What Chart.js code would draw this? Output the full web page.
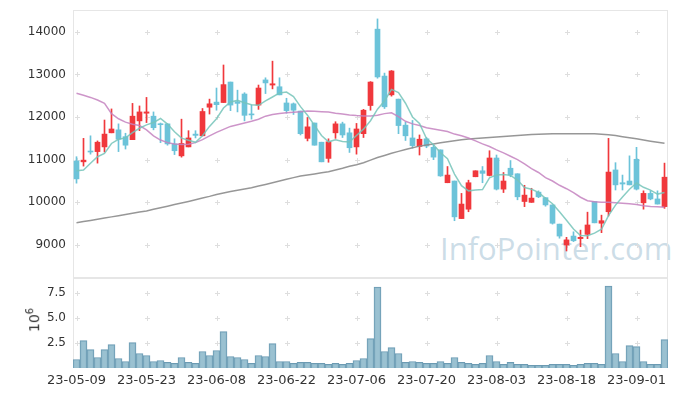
<!DOCTYPE html>
<html><head><meta charset="utf-8">
<script src="https://cdn.jsdelivr.net/npm/chart.js@4"></script>
<style>
html,body{margin:0;padding:0;background:#fff;}
#wrap{position:relative;width:677px;height:396px;overflow:hidden;background:#fff;}
#wm{position:absolute;left:440px;top:233px;font:31px "Open Sans",sans-serif;color:rgba(170,198,215,0.6);white-space:nowrap;line-height:1;}
#c1{position:absolute;left:0;top:0;}
#c2{position:absolute;left:0;top:278px;}
#unit{position:absolute;left:33px;top:320px;transform:translate(-50%,-50%) rotate(-90deg);font:14px "DejaVu Sans",sans-serif;color:#333;white-space:nowrap;}
#unit sup{font-size:10px;}
</style></head>
<body>
<div id="wrap">
<div id="wm">InfoPointer.com</div>
<canvas id="c1" width="677" height="280"></canvas>
<canvas id="c2" width="677" height="118"></canvas>
<div id="unit">10<sup>6</sup></div>
</div>
<script>
const dates = ["23-05-09","23-05-10","23-05-11","23-05-12","23-05-15","23-05-16","23-05-17","23-05-18","23-05-19","23-05-22",
"23-05-23","23-05-24","23-05-25","23-05-26","23-05-30","23-05-31","23-06-01","23-06-02","23-06-05","23-06-07",
"23-06-08","23-06-09","23-06-12","23-06-13","23-06-14","23-06-15","23-06-16","23-06-19","23-06-20","23-06-21",
"23-06-22","23-06-23","23-06-26","23-06-27","23-06-28","23-06-29","23-06-30","23-07-03","23-07-04","23-07-05",
"23-07-06","23-07-07","23-07-10","23-07-11","23-07-12","23-07-13","23-07-14","23-07-17","23-07-18","23-07-19",
"23-07-20","23-07-21","23-07-24","23-07-25","23-07-26","23-07-27","23-07-28","23-07-31","23-08-01","23-08-02",
"23-08-03","23-08-04","23-08-07","23-08-08","23-08-09","23-08-10","23-08-11","23-08-14","23-08-16","23-08-17",
"23-08-18","23-08-21","23-08-22","23-08-23","23-08-24","23-08-25","23-08-28","23-08-29","23-08-30","23-08-31",
"23-09-01","23-09-04","23-09-05","23-09-06","23-09-07"];

const open = [10970,10950,11200,11190,11300,11630,11700,11540,11470,11910,
12090,12020,11840,11840,11370,11090,11300,11600,11560,12230,
12350,12340,12820,12360,12540,12070,12280,12870,12750,12710,
12330,12310,12140,11500,11860,11410,11030,11630,11840,11630,
11300,11610,12270,14060,12960,12520,12420,11810,11510,11310,
11490,11290,11230,10460,10500,9620,9840,10600,10740,10630,
11040,10310,10800,10670,10020,10000,10240,10110,9940,9490,
9000,9210,9150,9250,10020,9510,9780,10760,10460,10500,
11010,9990,10210,10080,9900];
const high = [11070,11500,11560,11440,11930,12190,11840,11620,12320,12260,
12460,12120,11860,11840,11490,11950,11680,11680,12200,12420,
12680,13220,12820,12630,12570,12280,12750,12920,13310,12920,
12440,12330,12140,11990,11860,11410,11490,11890,11880,11740,
11850,12180,12830,14300,13030,13090,12420,11880,11920,11580,
11520,11340,11230,10840,10500,10210,10520,10740,10840,11210,
11110,10700,10980,10670,10400,10330,10270,10110,9940,9490,
9180,9310,9350,9770,10020,9700,11500,10930,10640,11090,
11290,10270,10270,10270,10920];
const low = [10450,10850,11130,10920,11180,11630,11190,11250,11470,11680,
11870,11700,11400,11340,11120,11060,11300,11510,11560,12070,
12160,12340,12150,12120,11910,11950,12180,12550,12660,12520,
12090,12060,11580,11440,11340,10950,10940,11500,11520,11170,
11130,11520,12160,12910,12200,12490,11610,11450,11270,11110,
11280,11000,10610,10460,9570,9620,9780,10600,10460,10620,
10290,10230,10600,10060,9900,10000,10110,9910,9490,9160,
8860,9080,8960,9150,9520,9290,9680,10290,10290,10410,
10290,9840,10060,9960,9860];
const close = [10550,10990,11180,11410,11600,11720,11480,11340,12020,12120,
12120,11750,11820,11370,11210,11380,11510,11570,12130,12310,
12290,12760,12280,12320,12040,12050,12680,12800,12780,12520,
12150,12160,11610,11770,11340,10950,11420,11840,11580,11280,
11720,12160,12820,12940,12240,13080,11800,11560,11330,11480,
11320,11060,10620,10640,9660,9960,10460,10740,10680,11040,
10310,10500,10640,10130,10170,10100,10130,9940,9510,9210,
9120,9100,9180,9470,9520,9570,10710,10410,10430,10410,
10310,10210,10080,9960,10590];

const ma5 = [10742,10758,10915,11070,11148,11381,11479,11511,11633,11737,
11816,11871,11966,11835,11653,11506,11458,11408,11561,11780,
11961,12211,12352,12390,12337,12290,12274,12378,12470,12566,
12584,12481,12244,12041,11806,11567,11419,11465,11428,11415,
11568,11717,11913,12185,12377,12649,12575,12324,12002,11849,
11497,11350,11163,11025,10662,10390,10270,10292,10300,10575,
10644,10652,10633,10524,10349,10308,10234,10094,9969,9778,
9581,9375,9224,9216,9278,9369,9691,9936,10128,10306,
10453,10353,10288,10194,10229];
const ma20 = [12556,12510,12460,12400,12320,12080,11960,11880,11830,11800,
11700,11560,11460,11400,11370,11355,11360,11400,11470,11560,
11640,11710,11780,11820,11860,11900,11950,12020,12060,12085,
12100,12115,12125,12140,12135,12125,12118,12090,12070,12050,
12035,12025,12025,12040,12080,12100,12010,11900,11840,11800,
11750,11720,11690,11660,11600,11560,11510,11440,11370,11310,
11230,11160,11080,11000,10900,10790,10700,10580,10500,10400,
10320,10230,10120,10040,10015,10005,10000,9990,9978,9965,
9950,9920,9905,9895,9885];
const ma60 = [9523,9550,9577,9604,9632,9660,9688,9716,9744,9772,
9800,9837,9874,9911,9948,9985,10022,10060,10100,10140,
10185,10220,10255,10285,10315,10345,10383,10421,10460,10500,
10540,10580,10617,10642,10667,10692,10717,10760,10800,10845,
10880,10930,10990,11050,11100,11150,11195,11240,11280,11318,
11345,11370,11395,11420,11445,11470,11485,11497,11508,11518,
11530,11542,11555,11570,11580,11590,11598,11604,11608,11610,
11611,11611,11611,11610,11608,11598,11585,11565,11540,11515,
11490,11462,11435,11410,11383];

const volume = [0.85,2.74,1.84,1.05,1.84,2.34,0.95,0.65,2.54,1.45,
1.25,0.65,0.75,0.56,0.46,1.05,0.56,0.46,1.65,1.25,
1.75,3.63,1.15,1.05,0.85,0.46,1.25,1.15,2.44,0.65,
0.65,0.46,0.56,0.56,0.46,0.46,0.36,0.46,0.36,0.46,
0.75,0.95,2.94,8.10,1.65,2.04,1.45,0.56,0.65,0.56,
0.46,0.46,0.65,0.46,1.05,0.56,0.46,0.36,0.46,1.25,
0.65,0.36,0.56,0.36,0.36,0.26,0.26,0.26,0.36,0.36,
0.36,0.26,0.36,0.46,0.46,0.36,8.19,1.45,0.65,2.24,
2.14,0.65,0.36,0.36,2.84];

const priceTicks = [9000,10000,11000,12000,13000,14000];
const volTicks = [2.5,5,7.5];

const UP = '#f0383c', DOWN = '#6cc3d9';
const candleColors = close.map((c,i)=> c >= open[i] ? UP : DOWN);
const tickFont = {family:'"DejaVu Sans", sans-serif', size:12};

const gridPlugin = {
  id:'crossGrid',
  beforeDatasetsDraw(chart){
    const {ctx, chartArea:a, scales} = chart;
    const xs = scales.x, ys = scales.y;
    ctx.save();
    ctx.strokeStyle = '#e6e6e6';
    ctx.lineWidth = 1;
    ctx.strokeRect(Math.round(a.left)+0.5, Math.round(a.top)+0.5, Math.round(a.right-a.left)-1, Math.round(a.bottom-a.top)-1);
    ctx.strokeStyle = '#dedede';
    ctx.beginPath();
    const yvals = ys.ticks.map(t=>t.value);
    dates.forEach((d,i)=>{
      if (i % 10 !== 0) return;
      const x = Math.round(xs.getPixelForValue(i)) + 0.5;
      yvals.forEach(v=>{
        const y = Math.round(ys.getPixelForValue(v)) + 0.5;
        ctx.moveTo(x-2.5,y); ctx.lineTo(x+2.5,y);
        ctx.moveTo(x,y-2.5); ctx.lineTo(x,y+2.5);
      });
    });
    ctx.stroke();
    ctx.restore();
  }
};

new Chart(document.getElementById('c1'), {
  data:{
    labels: dates,
    datasets:[
      {type:'line', data:ma5, borderColor:'rgba(118,196,186,0.85)', borderWidth:1.5, pointRadius:0, order:0},
      {type:'line', data:ma20, borderColor:'rgba(196,130,192,0.85)', borderWidth:1.5, pointRadius:0, order:0},
      {type:'line', data:ma60, borderColor:'rgba(140,140,140,0.9)', borderWidth:1.5, pointRadius:0, order:0},
      {type:'bar', data: low.map((l,i)=>[l, high[i]]), backgroundColor:candleColors, barThickness:1, grouped:false, order:2},
      {type:'bar', data: open.map((o,i)=>[o, close[i]]), backgroundColor:candleColors, barThickness:5, minBarLength:1, grouped:false, order:1}
    ]
  },
  options:{
    responsive:false, animation:false,
    layout:{padding:{top:10, right:9, bottom:2, left:0}},
    plugins:{legend:{display:false}, tooltip:{enabled:false}},
    scales:{
      x:{type:'category', offset:true, display:false, grid:{display:false}},
      y:{min:8227, max:14509,
         afterBuildTicks: s => { s.ticks = priceTicks.map(v=>({value:v})); },
         afterFit: s => { s.width = 73; s.paddingTop = 0; s.paddingBottom = 0; },
         ticks:{font:tickFont, color:'#333', padding:7, callback:v=>String(v)},
         grid:{display:false, drawTicks:false}, border:{display:false}}
    }
  },
  plugins:[gridPlugin]
});

new Chart(document.getElementById('c2'), {
  type:'bar',
  data:{
    labels: dates,
    datasets:[{data:volume, backgroundColor:'rgba(143,186,204,0.9)', borderColor:'rgba(100,150,175,0.95)', borderWidth:1, categoryPercentage:1, barPercentage:1}]
  },
  options:{
    responsive:false, animation:false,
    layout:{padding:{top:0, right:9, bottom:0, left:0}},
    plugins:{legend:{display:false}, tooltip:{enabled:false}},
    scales:{
      x:{type:'category', offset:true,
         afterFit: s => { s.height = 28; s.paddingLeft = 0; s.paddingRight = 0; },
         ticks:{autoSkip:false, maxRotation:0, minRotation:0, padding:5, color:'#333',
                font:{family:'"DejaVu Sans", sans-serif', size:13},
                callback:(v,i)=> i % 10 === 0 ? dates[i] : null},
         grid:{display:false, drawTicks:false}, border:{display:false}},
      y:{min:0, max:9,
         afterBuildTicks: s => { s.ticks = volTicks.map(v=>({value:v})); },
         afterFit: s => { s.width = 73; s.paddingTop = 0; s.paddingBottom = 0; },
         ticks:{font:tickFont, color:'#333', padding:7, callback:v=>Number(v).toFixed(1)},
         grid:{display:false, drawTicks:false}, border:{display:false}}
    }
  },
  plugins:[gridPlugin]
});
</script>
</body></html>
